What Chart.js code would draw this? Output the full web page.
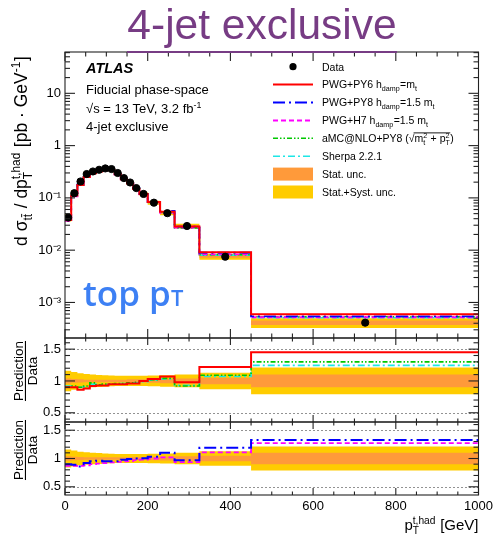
<!DOCTYPE html>
<html lang="en">
<head>
<meta charset="UTF-8">
<title>4-jet exclusive — hadronic top pT</title>
<script src="https://cdn.jsdelivr.net/npm/chart.js"></script>
<style>
  body { margin: 0; background: #fff; }
  .wrap { position: relative; width: 494px; height: 540px; overflow: hidden; }
  #plot { position: absolute; left: 0; top: 0; }
  .title {
    position: absolute; left: 0; top: 1px; width: 524px;
    text-align: center; line-height: 42px;
    font: 42.5px 'Liberation Sans', Arial, sans-serif; color: #773c84;
  }
  .title span { display: inline-block; border-bottom: 2px solid #773c84; padding-bottom: 5px; line-height: 42px; }
  .tag {
    position: absolute; left: 83px; top: 269px; line-height: 35px;
    font: 600 35px 'Open Sans', sans-serif; color: #3d80f4;
  }
  .tag span { font-size: 22px; }
</style>
</head>
<body>
<div class="wrap">
  <canvas id="plot" width="494" height="540"></canvas>
  <div class="title"><span>4-jet exclusive</span></div>
  <div class="tag">top p<span>T</span></div>
</div>
<script>
  // bin edges of the hadronic top pT distribution [GeV]
  const binEdges = [0, 15, 30, 45, 60, 75, 90, 105, 120, 135, 150, 165, 180, 200, 230, 265, 325, 450, 1000];
  // measured cross-section per bin [pb/GeV]
  const dataXsec = [0.042, 0.123, 0.206, 0.286, 0.32, 0.345, 0.366, 0.356, 0.299, 0.239,
                    0.197, 0.154, 0.119, 0.081, 0.051, 0.029, 0.0075, 0.00041];
  // relative uncertainties
  const statUnc = [0.04, 0.03, 0.025, 0.02, 0.02, 0.02, 0.02, 0.02, 0.02, 0.02,
                   0.025, 0.025, 0.025, 0.03, 0.035, 0.04, 0.05, 0.10];
  const totUnc  = [0.16, 0.14, 0.12, 0.11, 0.10, 0.095, 0.09, 0.085, 0.08, 0.08,
                   0.08, 0.08, 0.08, 0.085, 0.09, 0.10, 0.13, 0.21];
  // prediction / data
  const ratioPY6    = [0.90, 0.90, 0.86, 0.88, 0.92, 0.93, 0.93, 0.95, 0.95, 0.95,
                       0.96, 0.96, 1.00, 1.03, 1.07, 0.98, 1.22, 1.45];
  const ratioPY8    = [0.90, 0.89, 0.86, 0.92, 0.95, 0.96, 0.95, 0.95, 0.95, 0.98,
                       0.99, 1.00, 1.005, 1.03, 1.10, 0.97, 1.19, 1.325];
  const ratioH7     = [0.87, 0.87, 0.87, 0.88, 0.90, 0.91, 0.92, 0.93, 0.94, 0.95,
                       0.955, 0.97, 0.98, 1.00, 1.02, 0.935, 1.11, 1.27];
  const ratioAMC    = [0.91, 0.92, 0.90, 0.92, 0.97, 0.94, 0.95, 0.95, 0.96, 0.96,
                       0.97, 0.98, 1.00, 1.02, 1.04, 0.92, 1.09, 1.30];
  const ratioSherpa = [0.92, 0.91, 0.90, 0.91, 0.95, 0.94, 0.94, 0.95, 0.95, 0.96,
                       0.96, 0.97, 0.99, 1.01, 1.03, 0.93, 1.07, 1.245];
  // axis ticks
  const xTicks = [0, 200, 400, 600, 800, 1000];
  const mainTicks = [1e-3, 1e-2, 1e-1, 1, 10];
  const mainTickLabels = ['10⁻³', '10⁻²', '10⁻¹', '1', '10'];
  const ratioTicks = [0.5, 1, 1.5];
  const ratioTickLabels = ['0.5', '1', '1.5'];

  const FAM = "'Liberation Sans', Arial, sans-serif";
  const RED = '#ff0000', BLUE = '#0000ff', MAG = '#ff00ff', GREEN = '#00c800', CYAN = '#1ee6e6';
  const ORANGE = '#ff9a3a', YELLOW = '#ffcc00';
  const DASH = {
    py6: [], py8: [12, 4, 2, 4], h7: [5, 3], amc: [5, 2, 1.5, 2, 1.5, 2], sherpa: [7, 3, 2, 3]
  };

  // two points per bin so the line draws a histogram outline
  function stepPoints(vals) {
    const pts = [];
    vals.forEach((v, i) => { pts.push({ x: binEdges[i], y: v }, { x: binEdges[i + 1], y: v }); });
    return pts;
  }
  function line(vals, axis, color, width, dash, order) {
    return { data: stepPoints(vals), yAxisID: axis, borderColor: color, borderWidth: width,
             borderDash: dash, pointRadius: 0, fill: false, order };
  }
  function band(up, lo, axis, color, order) {
    return [
      { data: stepPoints(up), yAxisID: axis, borderWidth: 0, borderColor: 'transparent', pointRadius: 0, fill: false, order },
      { data: stepPoints(lo), yAxisID: axis, borderWidth: 0, borderColor: 'transparent', pointRadius: 0,
        fill: '-1', backgroundColor: color, order }
    ];
  }
  const times = (a, b) => a.map((v, i) => v * b[i]);
  const plus = (c, u) => u.map((v, i) => c[i] * (1 + v));
  const minus = (c, u) => u.map((v, i) => c[i] * (1 - v));
  const ones = dataXsec.map(() => 1);

  const datasets = [
    // main panel
    { data: dataXsec.map((v, i) => ({ x: i === dataXsec.length - 1 ? 726 : (binEdges[i] + binEdges[i + 1]) / 2, y: v })),
      yAxisID: 'y', showLine: false, pointRadius: 3.6, pointBackgroundColor: '#000', pointBorderColor: '#000', order: 0 },
    line(times(dataXsec, ratioPY6), 'y', RED, 2, DASH.py6, 1),
    line(times(dataXsec, ratioPY8), 'y', BLUE, 1.8, DASH.py8, 3),
    line(times(dataXsec, ratioH7), 'y', MAG, 1.8, DASH.h7, 4),
    line(times(dataXsec, ratioAMC), 'y', GREEN, 1.6, DASH.amc, 5),
    line(times(dataXsec, ratioSherpa), 'y', CYAN, 1.6, DASH.sherpa, 6),
    ...band(plus(dataXsec, statUnc), minus(dataXsec, statUnc), 'y', ORANGE, 20),
    ...band(plus(dataXsec, totUnc), minus(dataXsec, totUnc), 'y', YELLOW, 21),
    // upper ratio panel
    line(ratioPY6, 'r1', RED, 2, DASH.py6, 1),
    line(ratioAMC, 'r1', GREEN, 1.6, DASH.amc, 5),
    line(ratioSherpa, 'r1', CYAN, 1.6, DASH.sherpa, 6),
    ...band(plus(ones, statUnc), minus(ones, statUnc), 'r1', ORANGE, 20),
    ...band(plus(ones, totUnc), minus(ones, totUnc), 'r1', YELLOW, 21),
    // lower ratio panel
    line(ratioPY8, 'r2', BLUE, 2, DASH.py8, 3),
    line(ratioH7, 'r2', MAG, 1.8, DASH.h7, 4),
    ...band(plus(ones, statUnc), minus(ones, statUnc), 'r2', ORANGE, 20),
    ...band(plus(ones, totUnc), minus(ones, totUnc), 'r2', YELLOW, 21)
  ];

  // text with sub/superscripts; returns the width
  function rich(ctx, parts, x, y, size, draw = true) {
    const x0 = x, s2 = size * 0.68;
    for (const p of parts) {
      if (typeof p === 'string') {
        ctx.font = `${size}px ${FAM}`;
        if (draw) ctx.fillText(p, x, y);
        x += ctx.measureText(p).width;
      } else if (p.root) {
        ctx.font = `${size}px ${FAM}`;
        if (draw) ctx.fillText('√', x, y);
        x += ctx.measureText('√').width;
        const start = x;
        x += rich(ctx, p.root, x, y, size, draw);
        if (draw) ctx.fillRect(start - 1, y - size * 0.92, x - start + 1, 0.9);
      } else {
        ctx.font = `${s2}px ${FAM}`;
        let w = 0;
        if (p.sub) {
          const ys = y + size * 0.28;
          if (draw) ctx.fillText(p.sub, x, ys);
          w = ctx.measureText(p.sub).width;
          if (p.bar && draw) {
            const wl = ctx.measureText(p.sub.slice(-1)).width;
            ctx.fillRect(x + w - wl, ys - s2 * 0.9, wl, Math.max(0.8, s2 * 0.08));
          }
        }
        if (p.sup) {
          if (draw) ctx.fillText(p.sup, x, y - size * 0.42);
          w = Math.max(w, ctx.measureText(p.sup).width);
        }
        x += w + size * 0.04;
      }
    }
    return x - x0;
  }

  const legendRows = [
    { kind: 'dot', text: ['Data'] },
    { kind: 'line', color: RED, width: 2, dash: DASH.py6, text: ['PWG+PY6 h', { sub: 'damp' }, '=m', { sub: 't' }] },
    { kind: 'line', color: BLUE, width: 2, dash: DASH.py8, text: ['PWG+PY8 h', { sub: 'damp' }, '=1.5 m', { sub: 't' }] },
    { kind: 'line', color: MAG, width: 2, dash: DASH.h7, text: ['PWG+H7 h', { sub: 'damp' }, '=1.5 m', { sub: 't' }] },
    { kind: 'line', color: GREEN, width: 1.6, dash: DASH.amc,
      text: ['aMC@NLO+PY8 (', { root: ['m', { sub: 't', sup: '2' }, ' + p', { sub: 'T', sup: '2' }] }, ')'] },
    { kind: 'line', color: CYAN, width: 1.6, dash: DASH.sherpa, text: ['Sherpa 2.2.1'] },
    { kind: 'box', color: ORANGE, text: ['Stat. unc.'] },
    { kind: 'box', color: YELLOW, text: ['Stat.+Syst. unc.'] }
  ];

  const frameTicks = {
    id: 'frameTicks',
    beforeDatasetsDraw(chart) {
      const { ctx, scales } = chart, xs = scales.x;
      ctx.save();
      ctx.strokeStyle = '#777'; ctx.lineWidth = 0.8; ctx.setLineDash([2, 2]);
      for (const id of ['r1', 'r2']) {
        for (const v of [0.5, 1.5]) {
          const py = Math.round(scales[id].getPixelForValue(v)) + 0.5;
          ctx.beginPath(); ctx.moveTo(xs.left, py); ctx.lineTo(xs.right, py); ctx.stroke();
        }
      }
      ctx.restore();
    },
    afterDatasetsDraw(chart) {
      const { ctx, scales } = chart, xs = scales.x;
      const L = xs.left, R = xs.right;
      ctx.save();
      ctx.strokeStyle = '#222'; ctx.lineWidth = 1.1;
      const tick = (x1, y1, x2, y2) => { ctx.beginPath(); ctx.moveTo(x1, y1); ctx.lineTo(x2, y2); ctx.stroke(); };
      for (const id of ['y', 'r1', 'r2']) {
        const s = scales[id], T = s.top, B = s.bottom, main = id === 'y';
        ctx.strokeRect(L, T, R - L, B - T);
        // x ticks on top and bottom of every panel
        for (let v = 0; v <= 1000; v += 50) {
          const px = xs.getPixelForValue(v);
          const len = v % 200 === 0 ? (main ? 9 : 7) : (main ? 4.5 : 3.5);
          tick(px, T, px, T + len); tick(px, B, px, B - len);
        }
        if (main) {
          for (let d = -4; d <= 1; d++) {
            for (let k = 1; k <= 9; k++) {
              const v = k * Math.pow(10, d);
              if (v < s.min || v > s.max) continue;
              const py = s.getPixelForValue(v), len = k === 1 ? 10 : 5;
              tick(L, py, L + len, py); tick(R, py, R - len, py);
            }
          }
        } else {
          for (let i = 4; i <= 16; i++) {
            const v = i / 10;
            if (v < s.min || v > s.max) continue;
            const py = s.getPixelForValue(v), len = i % 5 === 0 ? 10 : 5;
            tick(L, py, L + len, py); tick(R, py, R - len, py);
          }
        }
      }
      ctx.restore();
    },
    afterDraw(chart) {
      const { ctx, scales } = chart;
      ctx.save();
      ctx.fillStyle = '#000'; ctx.textBaseline = 'alphabetic'; ctx.textAlign = 'left';

      // labels in the upper left corner
      ctx.font = `italic bold 14.5px ${FAM}`;
      ctx.fillText('ATLAS', 86, 73);
      ctx.font = `13px ${FAM}`;
      ctx.fillText('Fiducial phase-space', 86, 94);
      rich(ctx, ['√s = 13 TeV, 3.2 fb', { sup: '-1' }], 86, 113, 13);
      ctx.font = `13px ${FAM}`;
      ctx.fillText('4-jet exclusive', 86, 131);

      // legend
      legendRows.forEach((row, i) => {
        const cy = 66.7 + i * 17.9;
        if (row.kind === 'dot') {
          ctx.beginPath(); ctx.arc(293, cy, 3.6, 0, Math.PI * 2); ctx.fill();
        } else if (row.kind === 'line') {
          ctx.save();
          ctx.strokeStyle = row.color; ctx.lineWidth = row.width; ctx.setLineDash(row.dash);
          ctx.beginPath(); ctx.moveTo(273, cy); ctx.lineTo(313, cy); ctx.stroke();
          ctx.restore();
        } else {
          ctx.save(); ctx.fillStyle = row.color; ctx.fillRect(273, cy - 6.5, 40, 13); ctx.restore();
        }
        rich(ctx, row.text, 322, cy + 3.8, 10.5);
      });

      // y-axis title of the main panel
      const yParts = ['d σ', { sub: 'tt', bar: true }, ' / dp', { sub: 'T', sup: 't,had' }, ' [pb · GeV', { sup: '-1' }, ']'];
      ctx.save();
      ctx.translate(27, 151); ctx.rotate(-Math.PI / 2);
      const wy = rich(ctx, yParts, 0, 0, 17.5, false);
      rich(ctx, yParts, -wy / 2, 0, 17.5);
      ctx.restore();

      // ratio panel titles
      for (const [id, cy] of [['r1', 371], ['r2', 450]]) {
        ctx.save();
        ctx.translate(25.5, cy); ctx.rotate(-Math.PI / 2);
        ctx.font = `13.5px ${FAM}`; ctx.textAlign = 'center';
        const w = ctx.measureText('Prediction').width;
        ctx.fillText('Prediction', 0, -2.5);
        ctx.fillText('Data', 0, 11.5);
        ctx.fillRect(-w / 2, -0.6, w, 1.1);
        ctx.restore();
      }

      // x-axis title, right aligned to the frame
      const xParts = ['p', { sub: 'T', sup: 't,had' }, ' [GeV]'];
      const wx = rich(ctx, xParts, 0, 0, 15, false);
      rich(ctx, xParts, scales.x.right - wx, 530, 15);
      ctx.restore();
    }
  };

  const tickFont = { family: FAM, size: 13 };
  new Chart(document.getElementById('plot'), {
    type: 'line',
    data: { datasets },
    options: {
      responsive: false,
      animation: false,
      events: [],
      layout: { padding: { top: 52, right: 15.5, left: 0, bottom: 0 } },
      plugins: { legend: { display: false }, tooltip: { enabled: false } },
      scales: {
        x: {
          type: 'linear', position: 'bottom', min: 0, max: 1000,
          afterBuildTicks: s => { s.ticks = xTicks.map(v => ({ value: v })); },
          afterFit: s => { s.height = 45; s.paddingRight = 0; s.paddingLeft = 0; },
          grid: { display: false, drawTicks: false }, border: { display: false },
          ticks: { font: tickFont, color: '#000', padding: 4, maxRotation: 0, autoSkip: false, callback: v => String(v) }
        },
        r2: {
          type: 'linear', position: 'left', stack: 'panels', stackWeight: 73, min: 0.355, max: 1.645,
          afterBuildTicks: s => { s.ticks = ratioTicks.map(v => ({ value: v })); },
          afterFit: s => { s.width = 65; },
          grid: { display: false, drawTicks: false }, border: { display: false },
          ticks: { font: tickFont, color: '#000', padding: 4, autoSkip: false,
                   callback: v => ratioTickLabels[ratioTicks.indexOf(v)] }
        },
        r1: {
          type: 'linear', position: 'left', stack: 'panels', stackWeight: 84, min: 0.355, max: 1.675,
          afterBuildTicks: s => { s.ticks = ratioTicks.map(v => ({ value: v })); },
          afterFit: s => { s.width = 65; },
          grid: { display: false, drawTicks: false }, border: { display: false },
          ticks: { font: tickFont, color: '#000', padding: 4, autoSkip: false,
                   callback: v => ratioTickLabels[ratioTicks.indexOf(v)] }
        },
        y: {
          type: 'logarithmic', position: 'left', stack: 'panels', stackWeight: 286, min: 2.09e-4, max: 61.7,
          afterBuildTicks: s => { s.ticks = mainTicks.map(v => ({ value: v })); },
          afterFit: s => { s.width = 65; },
          grid: { display: false, drawTicks: false }, border: { display: false },
          ticks: { font: tickFont, color: '#000', padding: 4, autoSkip: false,
                   callback: v => mainTickLabels[mainTicks.indexOf(v)] }
        }
      }
    },
    plugins: [frameTicks]
  });
</script>
</body>
</html>
